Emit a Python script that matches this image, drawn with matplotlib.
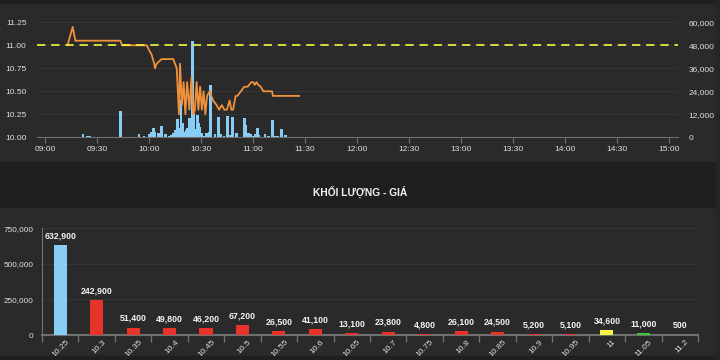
import matplotlib
matplotlib.use("Agg")
import matplotlib.pyplot as plt
from matplotlib.patches import Rectangle
import numpy as np

plt.rcParams['font.family'] = ['Liberation Sans', 'DejaVu Sans']

# ---------------- data ----------------
# intraday price line: minutes after 09:00, price
price_min = [13, 16, 17.5, 43.5, 44.5, 58.7, 60, 61.5, 63, 63.5, 64.4, 67.3, 74, 75, 76, 77.3, 77.9,
             79, 80, 81, 82, 83.3, 84.5, 85.5, 86.5, 87.5, 88.5, 89.5, 90.5, 91.5, 92.5, 93.5, 95,
             97, 99, 100.5, 102, 103.5, 105, 106.5, 107.5, 108.5, 110, 111, 113, 115, 117, 119,
             120, 121, 122, 123, 124.5, 126, 127.5, 131, 131.5, 146.7]
price_val = [11.00, 11.20, 11.05, 11.05, 11.00, 11.00, 10.95, 10.90, 10.80, 10.75, 10.80, 10.85, 10.85,
             10.80, 10.75, 10.25, 10.80, 10.35, 10.60, 10.25, 10.60, 10.30, 10.65, 10.25, 10.30, 10.60,
             10.30, 10.55, 10.30, 10.50, 10.25, 10.45, 10.50, 10.40, 10.35, 10.30, 10.35, 10.30, 10.30,
             10.40, 10.30, 10.30, 10.45, 10.45, 10.50, 10.55, 10.55, 10.60, 10.60, 10.57, 10.60, 10.57,
             10.55, 10.50, 10.50, 10.50, 10.45, 10.45]

# intraday volume bars: minutes after 09:00, shares
vol_min = [22, 24.4, 26, 43.7, 54.2, 57.1, 60, 61.5, 62.5, 63.5, 65.4, 67.3, 69.6, 71.5, 73, 74, 75.4,
           76.3, 77.4, 78.5, 79.4, 80.3, 81.3, 82.3, 83.3, 84, 85, 86, 87.1, 88.1, 88.8, 89.4, 90.4,
           91.8, 93.3, 94.6, 95.6, 98.1, 100.2, 101.5, 103.3, 105.4, 106.7, 108.3, 110.6, 115, 116,
           117.3, 118.7, 120, 121.3, 122.5, 123.5, 127, 128.9, 131.4, 132.3, 134, 136.6, 138.9]
vol_val = [1600, 700, 700, 13900, 1700, 700, 1500, 2600, 5000, 3000, 2100, 5900, 1600, 500, 1000, 2000,
           3800, 9600, 4700, 19500, 7300, 3000, 3800, 4700, 9900, 8700, 50000, 12500, 4200, 11700, 7300,
           5600, 2400, 500, 2400, 3000, 27300, 1700, 10400, 1700, 700, 11100, 1200, 10800, 2400, 10300,
           6400, 2100, 1700, 700, 1700, 5000, 1000, 1700, 700, 9000, 500, 500, 4300, 1000]

ref_price = 11.00
floor_price = 10.25

time_ticks = [0, 30, 60, 90, 120, 150, 180, 210, 240, 270, 300, 330, 360]
time_labels = ["09:00", "09:30", "10:00", "10:30", "11:00", "11:30", "12:00", "12:30",
               "13:00", "13:30", "14:00", "14:30", "15:00"]
price_ticks = [10.00, 10.25, 10.50, 10.75, 11.00, 11.25]
vol_ticks = [0, 12000, 24000, 36000, 48000, 60000]

# volume by price level
levels = ["10.25", "10.3", "10.35", "10.4", "10.45", "10.5", "10.55", "10.6", "10.65", "10.7",
          "10.75", "10.8", "10.85", "10.9", "10.95", "11", "11.05", "11.2"]
level_vol = [632900, 242900, 51400, 49800, 46200, 67200, 26500, 41100, 13100, 23800,
             4800, 26100, 24500, 5200, 5100, 34600, 11000, 500]
level_ticks = [0, 250000, 500000, 750000]

# ---------------- style ----------------
BG = "#2a2a2b"
DARK = "#1f1f1f"
TXT = "#e0e0e3"
GRID = "#363638"
AX = "#707073"
ORANGE = "#f0913a"
BLUE = "#87cdf5"
RED = "#e8332a"
YELLOW = "#f5f542"
GREEN = "#3cc83c"

fig = plt.figure(figsize=(7.2, 3.6), dpi=100, facecolor=BG)
W, H = 720.0, 360.0

def frac_rect(x0, y0, x1, y1, color):
    fig.patches.append(Rectangle((x0 / W, 1 - y1 / H), (x1 - x0) / W, (y1 - y0) / H,
                                 transform=fig.transFigure, color=color, zorder=0))

frac_rect(0, 0, 720, 3, DARK)
frac_rect(0, 162, 720, 207, DARK)
frac_rect(0, 356, 720, 360, DARK)
frac_rect(716, 0, 720, 360, "#252526")

fig.text(360 / W, 1 - 192 / H, "KHỐI LƯỢNG - GIÁ", ha="center", va="center",
         color="#f2f2f2", fontsize=7.4, fontweight="bold")

# ---------------- top chart ----------------
L, R, B, T = 37, 678, 137.3, 22.3
ax = fig.add_axes([L / W, 1 - B / H, (R - L) / W, (B - T) / H])
ax.set_facecolor(BG)
ax2 = ax.twinx()
ax.set_zorder(ax2.get_zorder() + 1)
ax.patch.set_visible(False)
ax2.set_facecolor(BG)

ax2.bar(vol_min, vol_val, width=1.5, color=BLUE, linewidth=0, zorder=2)
ax2.set_ylim(0, 60000)
ax2.set_yticks(vol_ticks)
ax2.set_yticklabels([f"{v:,}" for v in vol_ticks])

ax.plot(price_min, price_val, color=ORANGE, linewidth=1.3, zorder=3)
ax.axhline(ref_price, color=YELLOW, linewidth=1.2, dashes=(5, 3.5), zorder=4)
ax.set_ylim(10.0, 11.25)
ax.set_yticks(price_ticks)
ax.set_yticklabels([f"{p:.2f}" for p in price_ticks])
ax.set_xlim(-4.6, 365.2)
ax.set_xticks(time_ticks)
ax.set_xticklabels(time_labels)

for a in (ax, ax2):
    for s in a.spines.values():
        s.set_visible(False)
    a.tick_params(colors=TXT, labelsize=6)
ax.spines["bottom"].set_visible(True)
ax.spines["bottom"].set_color(AX)
ax.tick_params(axis="x", length=4, color=AX, pad=2, direction="out")
ax.tick_params(axis="y", length=0, pad=7.5)
ax2.tick_params(axis="y", length=0, pad=7.5)
for p in price_ticks[1:]:
    ax2.axhline((p - 10.0) / 1.25 * 60000, color=GRID, linewidth=0.7, zorder=1)

# ---------------- bottom chart ----------------
L2, R2, B2, T2 = 42, 698, 335, 228.3
bx = fig.add_axes([L2 / W, 1 - B2 / H, (R2 - L2) / W, (B2 - T2) / H])
bx.set_facecolor(BG)
xpos = np.arange(len(levels))
colors = []
for lv in levels:
    v = float(lv)
    if abs(v - floor_price) < 1e-9:
        colors.append(BLUE)
    elif abs(v - ref_price) < 1e-9:
        colors.append(YELLOW)
    elif v < ref_price:
        colors.append(RED)
    else:
        colors.append(GREEN)
bx.bar(xpos, level_vol, width=0.36, color=colors, linewidth=0, zorder=3)
for x, v in zip(xpos, level_vol):
    bx.annotate(f"{v:,}", (x, v), xytext=(0, 3.5), textcoords="offset points",
                ha="center", va="bottom", color="#f4f4f4", fontsize=6.3, fontweight="bold")
for x, lab in zip(xpos, levels):
    bx.annotate(lab, (x, 0), xycoords=("data", "axes fraction"), xytext=(4.0, -2.4),
                textcoords="offset points", rotation=45, ha="right", va="top",
                rotation_mode="anchor", color=TXT, fontsize=6.0, annotation_clip=False)
bx.set_xlim(-0.5, len(levels) - 0.5)
bx.set_ylim(0, 750000)
bx.set_yticks(level_ticks)
bx.set_yticklabels([f"{v:,}" for v in level_ticks])
for v in level_ticks[1:]:
    bx.axhline(v, color=GRID, linewidth=0.7, zorder=1)
bx.set_xticks(np.arange(len(levels) + 1) - 0.5)
bx.set_xticklabels([])
for s in ("top", "right"):
    bx.spines[s].set_visible(False)
bx.spines["bottom"].set_color(AX)
bx.spines["bottom"].set_linewidth(1.5)
bx.spines["left"].set_color(AX)
bx.tick_params(axis="x", which="major", length=5, color=AX, width=1)
bx.tick_params(axis="y", length=0, colors=TXT, labelsize=5.9, pad=6)

fig.savefig("out.png", dpi=100, facecolor=BG)
